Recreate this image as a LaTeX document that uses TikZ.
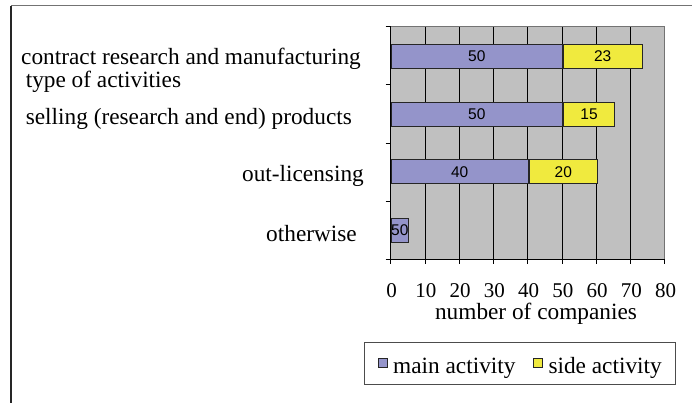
\documentclass[tikz,border=0pt]{standalone}
\usepackage{fontspec}
\setmainfont{Liberation Serif}
\newfontfamily\barfont{Liberation Sans}
\usetikzlibrary{positioning}

\definecolor{chartgray}{RGB}{192,192,192}
\definecolor{mainblue}{RGB}{148,148,202}
\definecolor{sideyellow}{RGB}{240,234,62}

\begin{document}
\begin{tikzpicture}[x=1pt,y=-1pt,
	every node/.style={inner sep=0pt},
	catlabel/.style={font=\fontsize{23.3}{20.6}\selectfont},
	ticklabel/.style={font=\fontsize{21}{24}\selectfont},
	barlabel/.style={font=\barfont\fontsize{15.5}{18}\selectfont},
	mainbar/.style={barlabel,draw=black!85,line width=0.9pt,fill=mainblue,minimum height=24pt,anchor=west},
	sidebar/.style={barlabel,draw=black!85,line width=0.9pt,fill=sideyellow,minimum height=24pt,anchor=west},
	keybox/.style={draw=black!85,line width=0.8pt,minimum width=9pt,minimum height=9pt}]
	\useasboundingbox (0,0) rectangle (692,403);
	% outer frame
	\draw[black!55,line width=1.2pt] (11,5.7) -- (692,5.7);
	\draw[black!85,line width=1.2pt] (11,5.7) -- (11,403);
	% plot area and grid
	\fill[chartgray] (390.7,26.7) rectangle (664.7,259.3);
	\foreach \i in {1,...,7}
		\draw[black,line width=0.8pt] ({390.7+34.25*\i},26.7) -- ({390.7+34.25*\i},259.3);
	\draw[black!55,line width=1.2pt] (390.7,26.7) -- (664.7,26.7) -- (664.7,259.3);
	\draw[black,line width=0.8pt] (390.7,26.7) -- (390.7,259.3) -- (664.7,259.3);
	\foreach \y in {26.7,84.85,143,201.15,259.3}
		\draw[black,line width=0.8pt] (385.7,\y) -- (390.7,\y);
	\foreach \i in {0,...,8} {
		\draw[black,line width=0.8pt] ({390.7+34.25*\i},259.3) -- ({390.7+34.25*\i},263.8);
		\node[ticklabel,anchor=base] (t\i) at ({391.5+34.25*\i},297.3) {\pgfmathparse{int(10*\i)}\pgfmathresult};
	}
	\node[catlabel,anchor=base] (xtitle) at (536,319.8) {number of companies};
	% bars
	\node[mainbar,minimum width=171.25pt] (m1) at (390.7,56) {50};
	\node[sidebar,minimum width=78.8pt] (s1) at (m1.east) {23};
	\node[mainbar,minimum width=171.25pt] (m2) at (390.7,114) {50};
	\node[sidebar,minimum width=51.4pt] (s2) at (m2.east) {15};
	\node[mainbar,minimum width=137pt] (m3) at (390.7,171.7) {40};
	\node[sidebar,minimum width=68.5pt] (s3) at (m3.east) {20};
	\node[mainbar,minimum width=17.1pt] (m4) at (390.7,230.5) {50};
	% categories
	\node[catlabel,align=left,anchor=base west] (c1) at (21,87.3)
		{contract research and manufacturing\\\hspace*{4.6pt}type of activities};
	\node[catlabel,anchor=base west] (c2) at (25.6,125) {selling (research and end) products};
	\node[catlabel,anchor=base east] (c3) at (364,181.7) {out-licensing};
	\node[catlabel,anchor=base east] (c4) at (357,241.7) {otherwise};
	% legend
	\node[draw=black!70,line width=1pt,minimum width=311pt,minimum height=42pt] (legend) at (519.5,363.5) {};
	\node[keybox,fill=mainblue] (kmain) at (383.3,362.5) {};
	\node[catlabel,anchor=base west] (lmain) at (393,373.3) {main activity};
	\node[keybox,fill=sideyellow] (kside) at (538.3,362.5) {};
	\node[catlabel,anchor=base west] (lside) at (548.3,373.3) {side activity};
\end{tikzpicture}
\end{document}
